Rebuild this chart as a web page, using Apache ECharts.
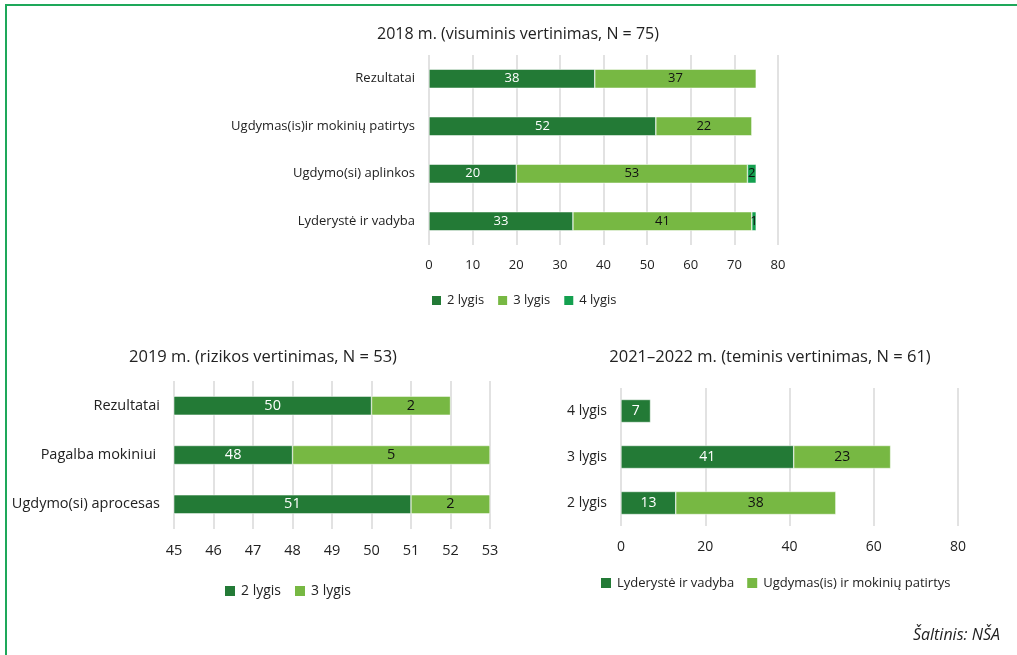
<!DOCTYPE html>
<html>
<head>
<meta charset="utf-8">
<script src="https://cdn.jsdelivr.net/npm/echarts@6/dist/echarts.min.js"></script>
<style>
  html, body { margin: 0; padding: 0; background: #fff; }
  #frame {
    position: absolute; left: 5px; top: 4px; width: 1030px; height: 680px;
    border-left: 2px solid #1ea85a; border-top: 2px solid #1ea85a;
  }
  #main { position: absolute; left: 0; top: 0; width: 1017px; height: 655px; }
</style>
</head>
<body>
<div id="frame"></div>
<div id="main"></div>
<script>
// 2018 m. (visuminis vertinimas)
const cats2018 = ['Rezultatai', 'Ugdymas(is)ir mokinių patirtys', 'Ugdymo(si) aplinkos', 'Lyderystė ir vadyba']
const lygis2_2018 = [38, 52, 20, 33]
const lygis3_2018 = [37, 22, 53, 41]
const lygis4_2018 = [null, null, 2, 1]

// 2019 m. (rizikos vertinimas)
const cats2019 = ['Rezultatai', 'Pagalba mokiniui ', 'Ugdymo(si) aprocesas']
const lygis2_2019 = [50, 48, 51]
const lygis3_2019 = [2, 5, 2]

// 2021–2022 m. (teminis vertinimas)
const cats2021 = ['4 lygis', '3 lygis', '2 lygis']
const lyderyste2021 = [7, 41, 13]
const ugdymas2021 = [null, 23, 38]

const DARK = '#237a36'
const LIGHT = '#77b843'
const BRIGHT = '#14a04f'
const FONT = 'Open Sans'

function valAxis(idx, min, max, interval, fs){
  return {
    type: 'value', gridIndex: idx, min: min, max: max, interval: interval,
    axisLine: { show: false }, axisTick: { show: false },
    axisLabel: { color: '#222', fontSize: fs, fontFamily: FONT, margin: 14 },
    splitLine: { lineStyle: { color: '#d9d9d9', width: 1.5 } }
  }
}
function catAxis(idx, data, fs){
  return {
    type: 'category', gridIndex: idx, data: data, inverse: true,
    axisLine: { show: false }, axisTick: { show: false },
    axisLabel: { color: '#222', fontSize: fs, fontFamily: FONT, margin: 14 }
  }
}
function barSeries(name, idx, stack, data, color, labelColor, width, fs){
  return {
    name: name, type: 'bar', xAxisIndex: idx, yAxisIndex: idx, stack: stack,
    data: data, barWidth: width,
    itemStyle: { color: color, borderColor: '#fff', borderWidth: 0.5 },
    label: {
      show: true, position: 'inside', color: labelColor,
      fontSize: fs, fontFamily: FONT
    }
  }
}

const chart = echarts.init(document.getElementById('main'))
chart.setOption({
  animation: false,
  textStyle: { fontFamily: FONT },
  title: [
    { text: '2018 m. (visuminis vertinimas, N = 75)', left: 513, top: 21, textAlign: 'center',
      textStyle: { fontSize: 16, fontWeight: 'normal', color: '#222', fontFamily: FONT } },
    { text: '2019 m. (rizikos vertinimas, N = 53)', left: 258, top: 344, textAlign: 'center',
      textStyle: { fontSize: 16.5, fontWeight: 'normal', color: '#222', fontFamily: FONT } },
    { text: '2021–2022 m. (teminis vertinimas, N = 61)', left: 765, top: 344, textAlign: 'center',
      textStyle: { fontSize: 16.5, fontWeight: 'normal', color: '#222', fontFamily: FONT } },
    { text: 'Šaltinis: NŠA', right: 12, top: 622,
      textStyle: { fontSize: 16, fontWeight: 'normal', fontStyle: 'italic', color: '#222', fontFamily: FONT } }
  ],
  legend: [
    { data: ['2 lygis', '3 lygis', '4 lygis'], left: 425, top: 289, icon: 'rect',
      itemWidth: 11, itemHeight: 11, itemGap: 12,
      textStyle: { fontSize: 13, color: '#222', fontFamily: FONT } },
    { data: ['2 lygis', '3 lygis'], left: 218, top: 579, icon: 'rect',
      itemWidth: 12, itemHeight: 12, itemGap: 12,
      textStyle: { fontSize: 14, color: '#222', fontFamily: FONT } },
    { data: ['Lyderystė ir vadyba', 'Ugdymas(is) ir mokinių patirtys'], left: 594, top: 571, icon: 'rect',
      itemWidth: 12, itemHeight: 12, itemGap: 11,
      textStyle: { fontSize: 13, color: '#222', fontFamily: FONT } }
  ],
  grid: [
    { left: 429, width: 349, top: 55, height: 190 },
    { left: 174, width: 316, top: 381, height: 148 },
    { left: 621, width: 337, top: 388, height: 138 }
  ],
  xAxis: [
    valAxis(0, 0, 80, 10, 13),
    valAxis(1, 45, 53, 1, 14.5),
    valAxis(2, 0, 80, 20, 14)
  ],
  yAxis: [
    catAxis(0, cats2018, 13),
    catAxis(1, cats2019, 14.5),
    catAxis(2, cats2021, 14)
  ],
  series: [
    barSeries('2 lygis', 0, 'a', lygis2_2018, DARK, '#fff', 19, 13),
    barSeries('3 lygis', 0, 'a', lygis3_2018, LIGHT, '#111', 19, 13),
    barSeries('4 lygis', 0, 'a', lygis4_2018, BRIGHT, '#111', 19, 13),
    barSeries('2 lygis', 1, 'b', lygis2_2019, DARK, '#fff', 19, 14.5),
    barSeries('3 lygis', 1, 'b', lygis3_2019, LIGHT, '#111', 19, 14.5),
    barSeries('Lyderystė ir vadyba', 2, 'c', lyderyste2021, DARK, '#fff', 23, 14),
    barSeries('Ugdymas(is) ir mokinių patirtys', 2, 'c', ugdymas2021, LIGHT, '#111', 23, 14)
  ]
})
</script>
</body>
</html>
